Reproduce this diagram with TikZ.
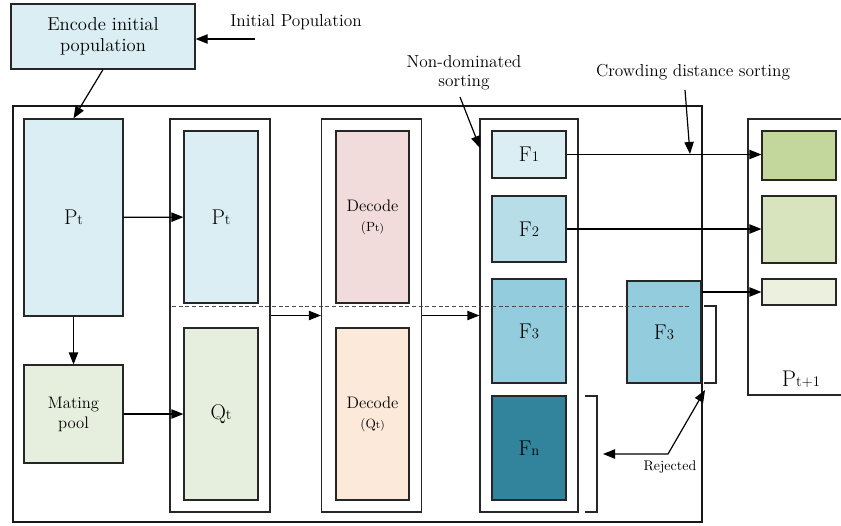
\documentclass[tikz,border=0pt]{standalone}
\usepackage{tikz}
\usetikzlibrary{arrows.meta, positioning}
\usepackage{amsmath}

\definecolor{paleblue}{HTML}{DAEEF3}
\definecolor{midblue}{HTML}{B7DDE8}
\definecolor{skyblue}{HTML}{93CDDD}
\definecolor{tealblue}{HTML}{31849B}
\definecolor{palegreen}{HTML}{E6EEDD}
\definecolor{palepink}{HTML}{F2DCDB}
\definecolor{palepeach}{HTML}{FDE9D9}
\definecolor{olive1}{HTML}{C3D69B}
\definecolor{olive2}{HTML}{D7E4BD}
\definecolor{olive3}{HTML}{EBF1DE}

\newcommand{\idx}[1]{{\fontsize{11}{11}\selectfont #1}}
\newcommand{\smallidx}[1]{{\fontsize{8}{8}\selectfont #1}}

\begin{document}
\begin{tikzpicture}[x=0.75pt, y=-0.75pt, >={Triangle[length=9pt,width=7pt]},
    box/.style={draw=black!85, rectangle, line width=0.9pt, inner sep=0pt, align=center},
    col/.style={draw=black!85, rectangle, line width=0.9pt, minimum width=75pt, minimum height=294.75pt},
    fbox/.style={box, minimum width=55.5pt, font=\fontsize{16}{18}\selectfont},
    gbox/.style={box, minimum width=55.5pt},
    lbl/.style={inner sep=0pt, align=center},
    link/.style={->, line width=0.9pt}]
    \useasboundingbox (0,0) rectangle (841,525);

    % Nodes
    \node (enc) [box, fill=paleblue, minimum width=138pt, minimum height=48.75pt,
        font=\fontsize{14}{16}\selectfont] at (103,36.5) {Encode initial\\population};
    \node (pop) [lbl, font=\fontsize{13}{15}\selectfont] at (296,22) {Initial Population};
    \coordinate (popin) at (255,39);

    \node (frame) [draw=black!90, line width=1.3pt, minimum width=516.75pt, minimum height=312pt] at (357.5,314) {};

    \node (pt) [box, fill=paleblue, minimum width=74.25pt, minimum height=147.75pt,
        font=\fontsize{16}{18}\selectfont] at (73.5,217.5) {P\idx{t}};
    \node (mate) [box, fill=palegreen, minimum width=74.25pt, minimum height=73.5pt,
        font=\fontsize{12.5}{15}\selectfont] at (73.5,414) {Mating\\pool};

    \node (coltwo) [col] at (220,315.5) {};
    \node (ptwo) [box, fill=paleblue, minimum width=55.5pt, minimum height=129pt,
        font=\fontsize{16}{18}\selectfont] at (221,217) {P\idx{t}};
    \node (qt) [box, fill=palegreen, minimum width=55.5pt, minimum height=129pt,
        font=\fontsize{16}{18}\selectfont] at (221,414) {Q\idx{t}};

    \node (colthree) [col] at (371.5,315.5) {};
    \node (decp) [box, fill=palepink, minimum width=54.75pt, minimum height=129pt,
        font=\fontsize{12.5}{15}\selectfont] at (372.5,217) {Decode\\{\fontsize{10}{12}\selectfont (P\smallidx{t)}}};
    \node (decq) [box, fill=palepeach, minimum width=54.75pt, minimum height=129pt,
        font=\fontsize{12.5}{15}\selectfont] at (372.5,414) {Decode\\{\fontsize{10}{12}\selectfont (Q\smallidx{t)}}};

    \node (colfour) [col, minimum width=73.5pt] at (529,315.5) {};
    \node (fone) [fbox, fill=paleblue, minimum height=35.25pt] at (529,154.5) {F\idx{1}};
    \node (ftwo) [fbox, fill=midblue, minimum height=49.5pt] at (529,229) {F\idx{2}};
    \node (fthree) [fbox, fill=skyblue, minimum height=78pt] at (529,331) {F\idx{3}};
    \node (fn) [fbox, fill=tealblue, minimum height=78pt] at (529,448) {F\idx{n}};

    \node (fsel) [fbox, fill=skyblue, minimum height=76.5pt] at (664,332) {F\idx{3}};

    \node (nxt) [draw=black!85, line width=0.9pt, minimum width=84pt, minimum height=207pt] at (804,257) {};
    \node (gone) [gbox, fill=olive1, minimum height=36.75pt] at (799,155.5) {};
    \node (gtwo) [gbox, fill=olive2, minimum height=50.25pt] at (799,229.5) {};
    \node (gthree) [gbox, fill=olive3, minimum height=19.5pt] at (799,292) {};
    \node (nxtlbl) [lbl, font=\fontsize{17}{19}\selectfont] at (801,379) {P\idx{t+1}};

    \node (nds) [lbl, font=\fontsize{13}{14}\selectfont] at (464,73) {Non-dominated\\sorting};
    \coordinate (ndsin) at (460,97);
    \node (cds) [lbl, font=\fontsize{13}{15}\selectfont] at (693,72) {Crowding distance sorting};
    \coordinate (cdsin) at (685,90);
    \coordinate (cdsend) at (690,154);
    \node (rej) [lbl, font=\fontsize{10.5}{12}\selectfont] at (670,467) {Rejected};
    \coordinate (rejleft) at (603,454);
    \coordinate (rejmid) at (668,454);
    \coordinate (rejtop) at (705,390);

    % Connections
    \draw[link] (popin) -- (popin -| enc.east);
    \draw[link] (enc.south) -- (pt.north);
    \draw[link] (pt) -- (mate);
    \draw[link] (pt) -- (ptwo);
    \draw[link] (mate) -- (qt);
    \draw[link] (coltwo) -- (colthree);
    \draw[link] (colthree) -- (colfour);
    \draw[link] (fone) -- (fone -| gone.west);
    \draw[link] (ftwo) -- (ftwo -| gtwo.west);
    \draw[link] (gthree -| fsel.east) -- (gthree);
    \draw[link] (ndsin) -- (480,148);
    \draw[link] (cdsin) -- (cdsend);
    \draw[<->, line width=0.9pt] (rejleft) -- (rejmid) -- (rejtop);

    % brackets and cut line
    \draw[line width=0.9pt, black!85] (585,396) -- (597,396) -- (597,512) -- (585,512);
    \draw[line width=0.9pt, black!85] (704,306) -- (716,306) -- (716,383) -- (704,383);
    \draw[black!70, line width=0.6pt, dash pattern=on 3pt off 2pt] (172,306) -- (690,306);
\end{tikzpicture}
\end{document}
